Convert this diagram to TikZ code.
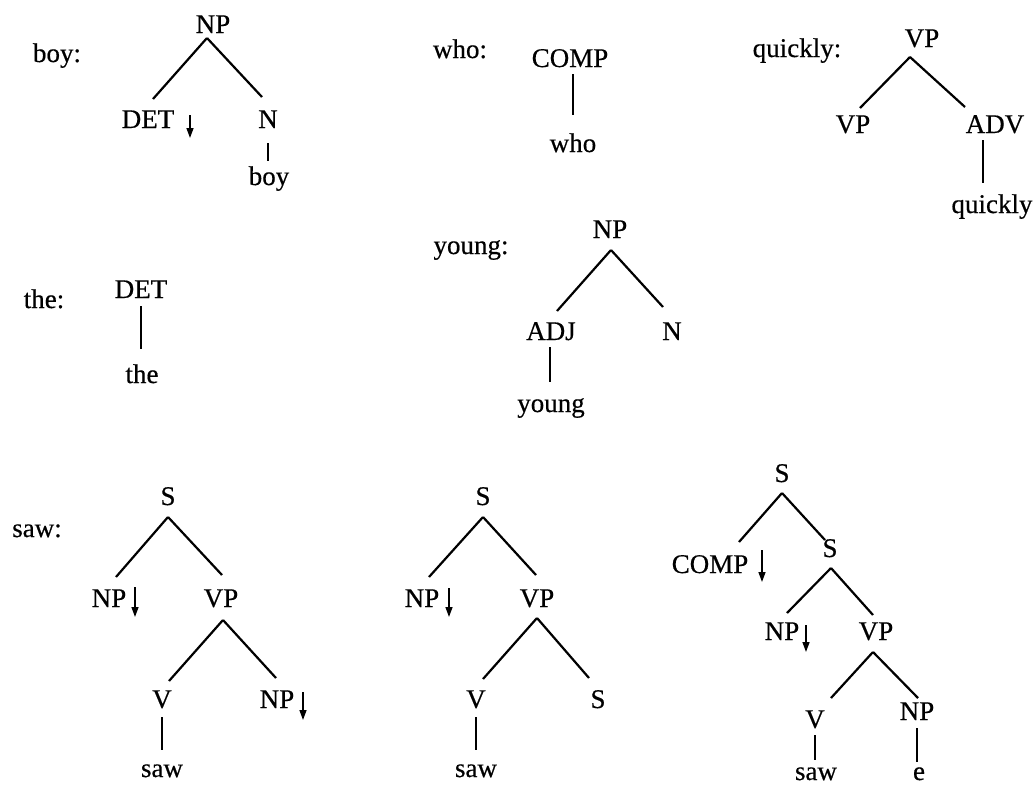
\documentclass[tikz,border=0pt]{standalone}
\usepackage{fontspec}
\setmainfont{Liberation Serif}[FakeBold=0.5]
\usetikzlibrary{arrows.meta}
\tikzset{
  lab/.style={anchor=base, inner sep=0pt, font=\fontsize{27}{32}\selectfont},
  ln/.style={line width=2.2pt},
  dn/.style={line width=1.4pt, -{Triangle[length=10pt,width=7pt]}}
}
\newcommand\tedge[4]{\draw[ln] ([shift={(#2)}]#1.base) -- ([shift={(#4)}]#3.base);}
\newcommand\tarrow[3]{\draw[dn] ([shift={(#2)}]#1.base) -- ([shift={(#3)}]#1.base);}
\begin{document}
\begin{tikzpicture}[x=1pt,y=-1pt]
\useasboundingbox (0,0) rectangle (1036,785);
% boy
\node[lab] (lboy) at (57,62) {boy:};
\node[lab] (bnp) at (213,33) {NP};
\node[lab] (bdet) at (148,128) {DET};
\node[lab] (bn) at (268,128) {N};
\node[lab] (bw) at (269,185) {boy};
\tedge{bnp}{-6,5}{bdet}{5,-29}
\tedge{bnp}{-6,5}{bn}{-6,-31}
\tedge{bn}{0,15}{bw}{-1,-24}
\tarrow{bdet}{42,-13}{42,10}
% who
\node[lab] (lwho) at (460,58) {who:};
\node[lab] (wcomp) at (570,67) {COMP};
\node[lab] (ww) at (573,152) {who};
\tedge{wcomp}{3,7}{ww}{0,-37}
% young
\node[lab] (lyoung) at (471,254) {young:};
\node[lab] (ynp) at (610,238) {NP};
\node[lab] (yadj) at (551,340) {ADJ};
\node[lab] (yn) at (672,340) {N};
\node[lab] (yw) at (551,412) {young};
\tedge{ynp}{1,12}{yadj}{6,-29}
\tedge{ynp}{1,12}{yn}{-9,-33}
\tedge{yadj}{-1,7}{yw}{-1,-30}
% quickly
\node[lab] (lquick) at (797,57) {quickly:};
\node[lab] (qvp) at (922,47) {VP};
\node[lab] (qvpb) at (853,133) {VP};
\node[lab] (qadv) at (995,133) {ADV};
\node[lab] (qw) at (992,213) {quickly};
\tedge{qvp}{-12,10}{qvpb}{7,-25}
\tedge{qvp}{-12,10}{qadv}{-30,-26}
\tedge{qadv}{-12,7}{qw}{-9,-30}
% the
\node[lab] (lthe) at (44,308) {the:};
\node[lab] (tdet) at (141,298) {DET};
\node[lab] (tw) at (142,383) {the};
\tedge{tdet}{0,8}{tw}{-1,-34}
% saw 1
\node[lab] (lsaw) at (37,537) {saw:};
\node[lab] (sa) at (168,505) {S};
\node[lab] (sanp) at (109,607) {NP};
\node[lab] (savp) at (221,607) {VP};
\node[lab] (sav) at (162,708) {V};
\node[lab] (sanpb) at (277,708) {NP};
\node[lab] (saw) at (162,777) {saw};
\tedge{sa}{0,12}{sanp}{7,-30}
\tedge{sa}{0,12}{savp}{1,-32}
\tedge{savp}{2,13}{sav}{7,-27}
\tedge{savp}{2,13}{sanpb}{-1,-30}
\tedge{sav}{0,9}{saw}{0,-27}
\tarrow{sanp}{26,-20}{26,10}
\tarrow{sanpb}{26,-16}{26,12}
% saw 2
\node[lab] (sb) at (483,505) {S};
\node[lab] (sbnp) at (422,607) {NP};
\node[lab] (sbvp) at (537,607) {VP};
\node[lab] (sbv) at (476,708) {V};
\node[lab] (sbs) at (598,708) {S};
\node[lab] (sbw) at (476,777) {saw};
\tedge{sb}{0,12}{sbnp}{7,-30}
\tedge{sb}{0,12}{sbvp}{-1,-32}
\tedge{sbvp}{0,11}{sbv}{7,-29}
\tedge{sbvp}{0,11}{sbs}{-9,-30}
\tedge{sbv}{0,9}{sbw}{0,-27}
\tarrow{sbnp}{27,-19}{27,10}
% saw 3
\node[lab] (sc) at (782,482) {S};
\node[lab] (sccomp) at (710,573) {COMP};
\node[lab] (scs) at (830,557) {S};
\node[lab] (scnp) at (782,640) {NP};
\node[lab] (scvp) at (876,640) {VP};
\node[lab] (scv) at (815,728) {V};
\node[lab] (scnpb) at (917,720) {NP};
\node[lab] (scw) at (816,780) {saw};
\node[lab] (sce) at (919,780) {e};
\tedge{sc}{0,11}{sccomp}{29,-31}
\tedge{sc}{0,11}{scs}{-5,-17}
\tedge{scs}{1,11}{scnp}{5,-27}
\tedge{scs}{1,11}{scvp}{-3,-25}
\tedge{scvp}{-3,12}{scv}{16,-30}
\tedge{scvp}{-3,12}{scnpb}{1,-22}
\tedge{scv}{0,7}{scw}{-1,-20}
\tedge{scnpb}{0,8}{sce}{-2,-18}
\tarrow{sccomp}{52,-23}{52,9}
\tarrow{scnp}{24,-15}{24,12}
\end{tikzpicture}
\end{document}
